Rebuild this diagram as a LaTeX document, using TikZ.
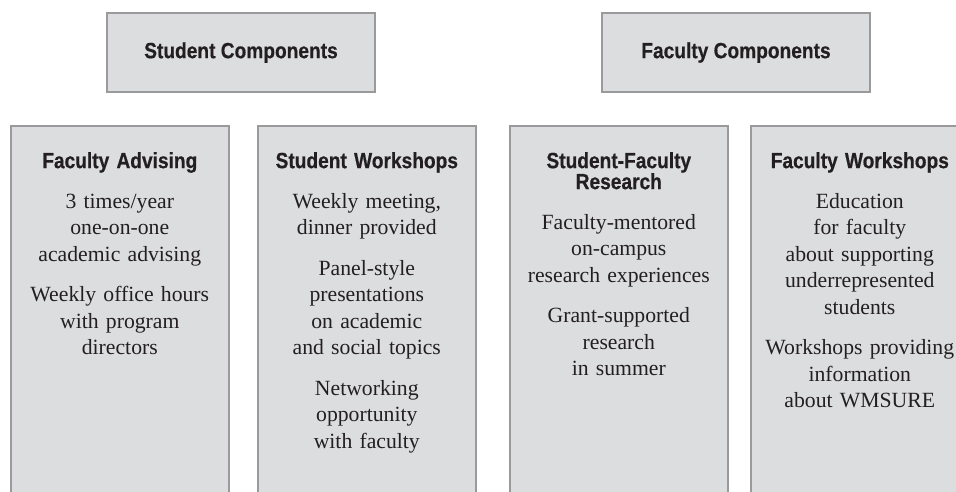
\documentclass[tikz,border=0pt]{standalone}
\usepackage{fontspec}
\setmainfont{Liberation Serif}
\newfontfamily\headfont[FakeStretch=0.87,FakeBold=0.5]{Liberation Sans}
\usetikzlibrary{positioning}
\definecolor{wmFill}{HTML}{DCDDDF}
\definecolor{wmEdge}{HTML}{9A9A9C}
\definecolor{wmInk}{HTML}{231F20}
\newcommand{\hd}[1]{{\headfont\bfseries\fontsize{22}{21}\selectfont #1}}
\tikzset{
  compbox/.style={draw=wmEdge, line width=1.6pt, fill=wmFill, minimum width=268pt, minimum height=79pt, inner sep=0pt, text=wmInk, font=\headfont\bfseries\fontsize{22}{26}\selectfont},
  colbox/.style={draw=wmEdge, line width=1.6pt, fill=wmFill, minimum width=218pt, minimum height=420pt, anchor=north west, inner sep=0pt},
  coltxt/.style={text width=214pt, align=center, inner sep=0pt, text=wmInk, font=\fontsize{21.7}{26.5}\selectfont},
}
\begin{document}
\begin{tikzpicture}[x=1pt, y=-1pt]
  \useasboundingbox (0,0) rectangle (956,491);
  \clip (0,0) rectangle (956,491);
  % top row
  \node[compbox] (stu) at (241,52.5) {Student Components};
  \node[compbox] (fac) at (736,52.5) {Faculty Components};
  % columns
  \node[colbox] (adv) at (10,125) {};
  \node[colbox] (sws) at (257,125) {};
  \node[colbox] (res) at (509,125) {};
  \node[colbox] (fws) at (750,125) {};
  \node[coltxt, below=27pt of adv.north] (advt) {\hd{Faculty Advising}\\[13.5pt]
    3 times/year\\ one-on-one\\ academic advising\\[14pt]
    Weekly office hours\\ with program\\ directors};
  \node[coltxt, below=27pt of sws.north] (swst) {\hd{Student Workshops}\\[13.5pt]
    Weekly meeting,\\ dinner provided\\[14pt]
    Panel-style\\ presentations\\ on academic\\ and social topics\\[14pt]
    Networking\\ opportunity\\ with faculty};
  \node[coltxt, below=27pt of res.north] (rest) {\hd{Student-Faculty}\\[-5.5pt]\hd{Research}\\[13.5pt]
    Faculty-mentored\\ on-campus\\ research experiences\\[14pt]
    Grant-supported\\ research\\ in summer};
  \node[coltxt, below=27pt of fws.north] (fwst) {\hd{Faculty Workshops}\\[13.5pt]
    Education\\ for faculty\\ about supporting\\ underrepresented\\ students\\[14pt]
    Workshops providing\\ information\\ about WMSURE};
\end{tikzpicture}
\end{document}
